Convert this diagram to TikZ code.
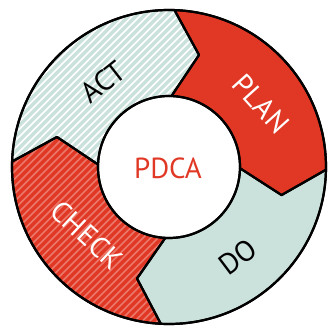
\documentclass[tikz,border=0pt]{standalone}
\usepackage{fontspec}
\setmainfont{PT Sans}

\definecolor{pdcared}{RGB}{224,56,36}
\definecolor{pdcateal}{RGB}{203,225,220}
\definecolor{pdcastripe}{RGB}{236,120,106}

% one quarter of the ring, from angle #1 clockwise to angle #2
\newcommand{\ringpart}[2]{(#1:157) arc[start angle=#1, end angle=#2, radius=157]
  -- ({#2-13}:116) -- (#2:71) arc[start angle=#2, end angle=#1, radius=71]
  -- ({#1-13}:116) -- cycle}

\begin{document}
\begin{tikzpicture}[x=1pt, y=1pt,
  line join=round,
  part/.style={draw=black, line width=2.2pt},
  stripe/.style={line width=1.6pt},
  word/.style={font=\fontsize{29}{29}\selectfont, inner sep=0pt}]

  \useasboundingbox (-169,-158) rectangle (160,167);

  \fill[pdcared] \ringpart{88}{-1};
  \fill[pdcateal] \ringpart{-1}{-93};
  \fill[pdcared] \ringpart{-93}{-182};
  \fill[pdcateal] \ringpart{178}{88};

  % hatching on CHECK and ACT
  \begin{scope}
    \clip \ringpart{-93}{-182};
    \foreach \k in {-330,-322.5,...,330}
      \draw[stripe, pdcastripe] (\k-170,-170) -- (\k+170,170);
  \end{scope}
  \begin{scope}
    \clip \ringpart{178}{88};
    \foreach \k in {-330,-322.5,...,330}
      \draw[stripe, white] (\k-170,-170) -- (\k+170,170);
  \end{scope}

  \foreach \a/\b in {88/-1, -1/-93, -93/-182, 178/88}
    \draw[part] \ringpart{\a}{\b};
  \draw[part] (0,0) circle[radius=157] (0,0) circle[radius=71];

  \node[word, white, rotate=-48] (plan) at (92,63) {PLAN};
  \node[word, black, rotate=37] (do) at (69,-90) {DO};
  \node[word, white, rotate=-43] (check) at (-82,-68) {CHECK};
  \node[word, black, rotate=38] (act) at (-66,85) {ACT};
  \node[word, pdcared] (pdca) at (-1,-1) {PDCA};
\end{tikzpicture}
\end{document}
